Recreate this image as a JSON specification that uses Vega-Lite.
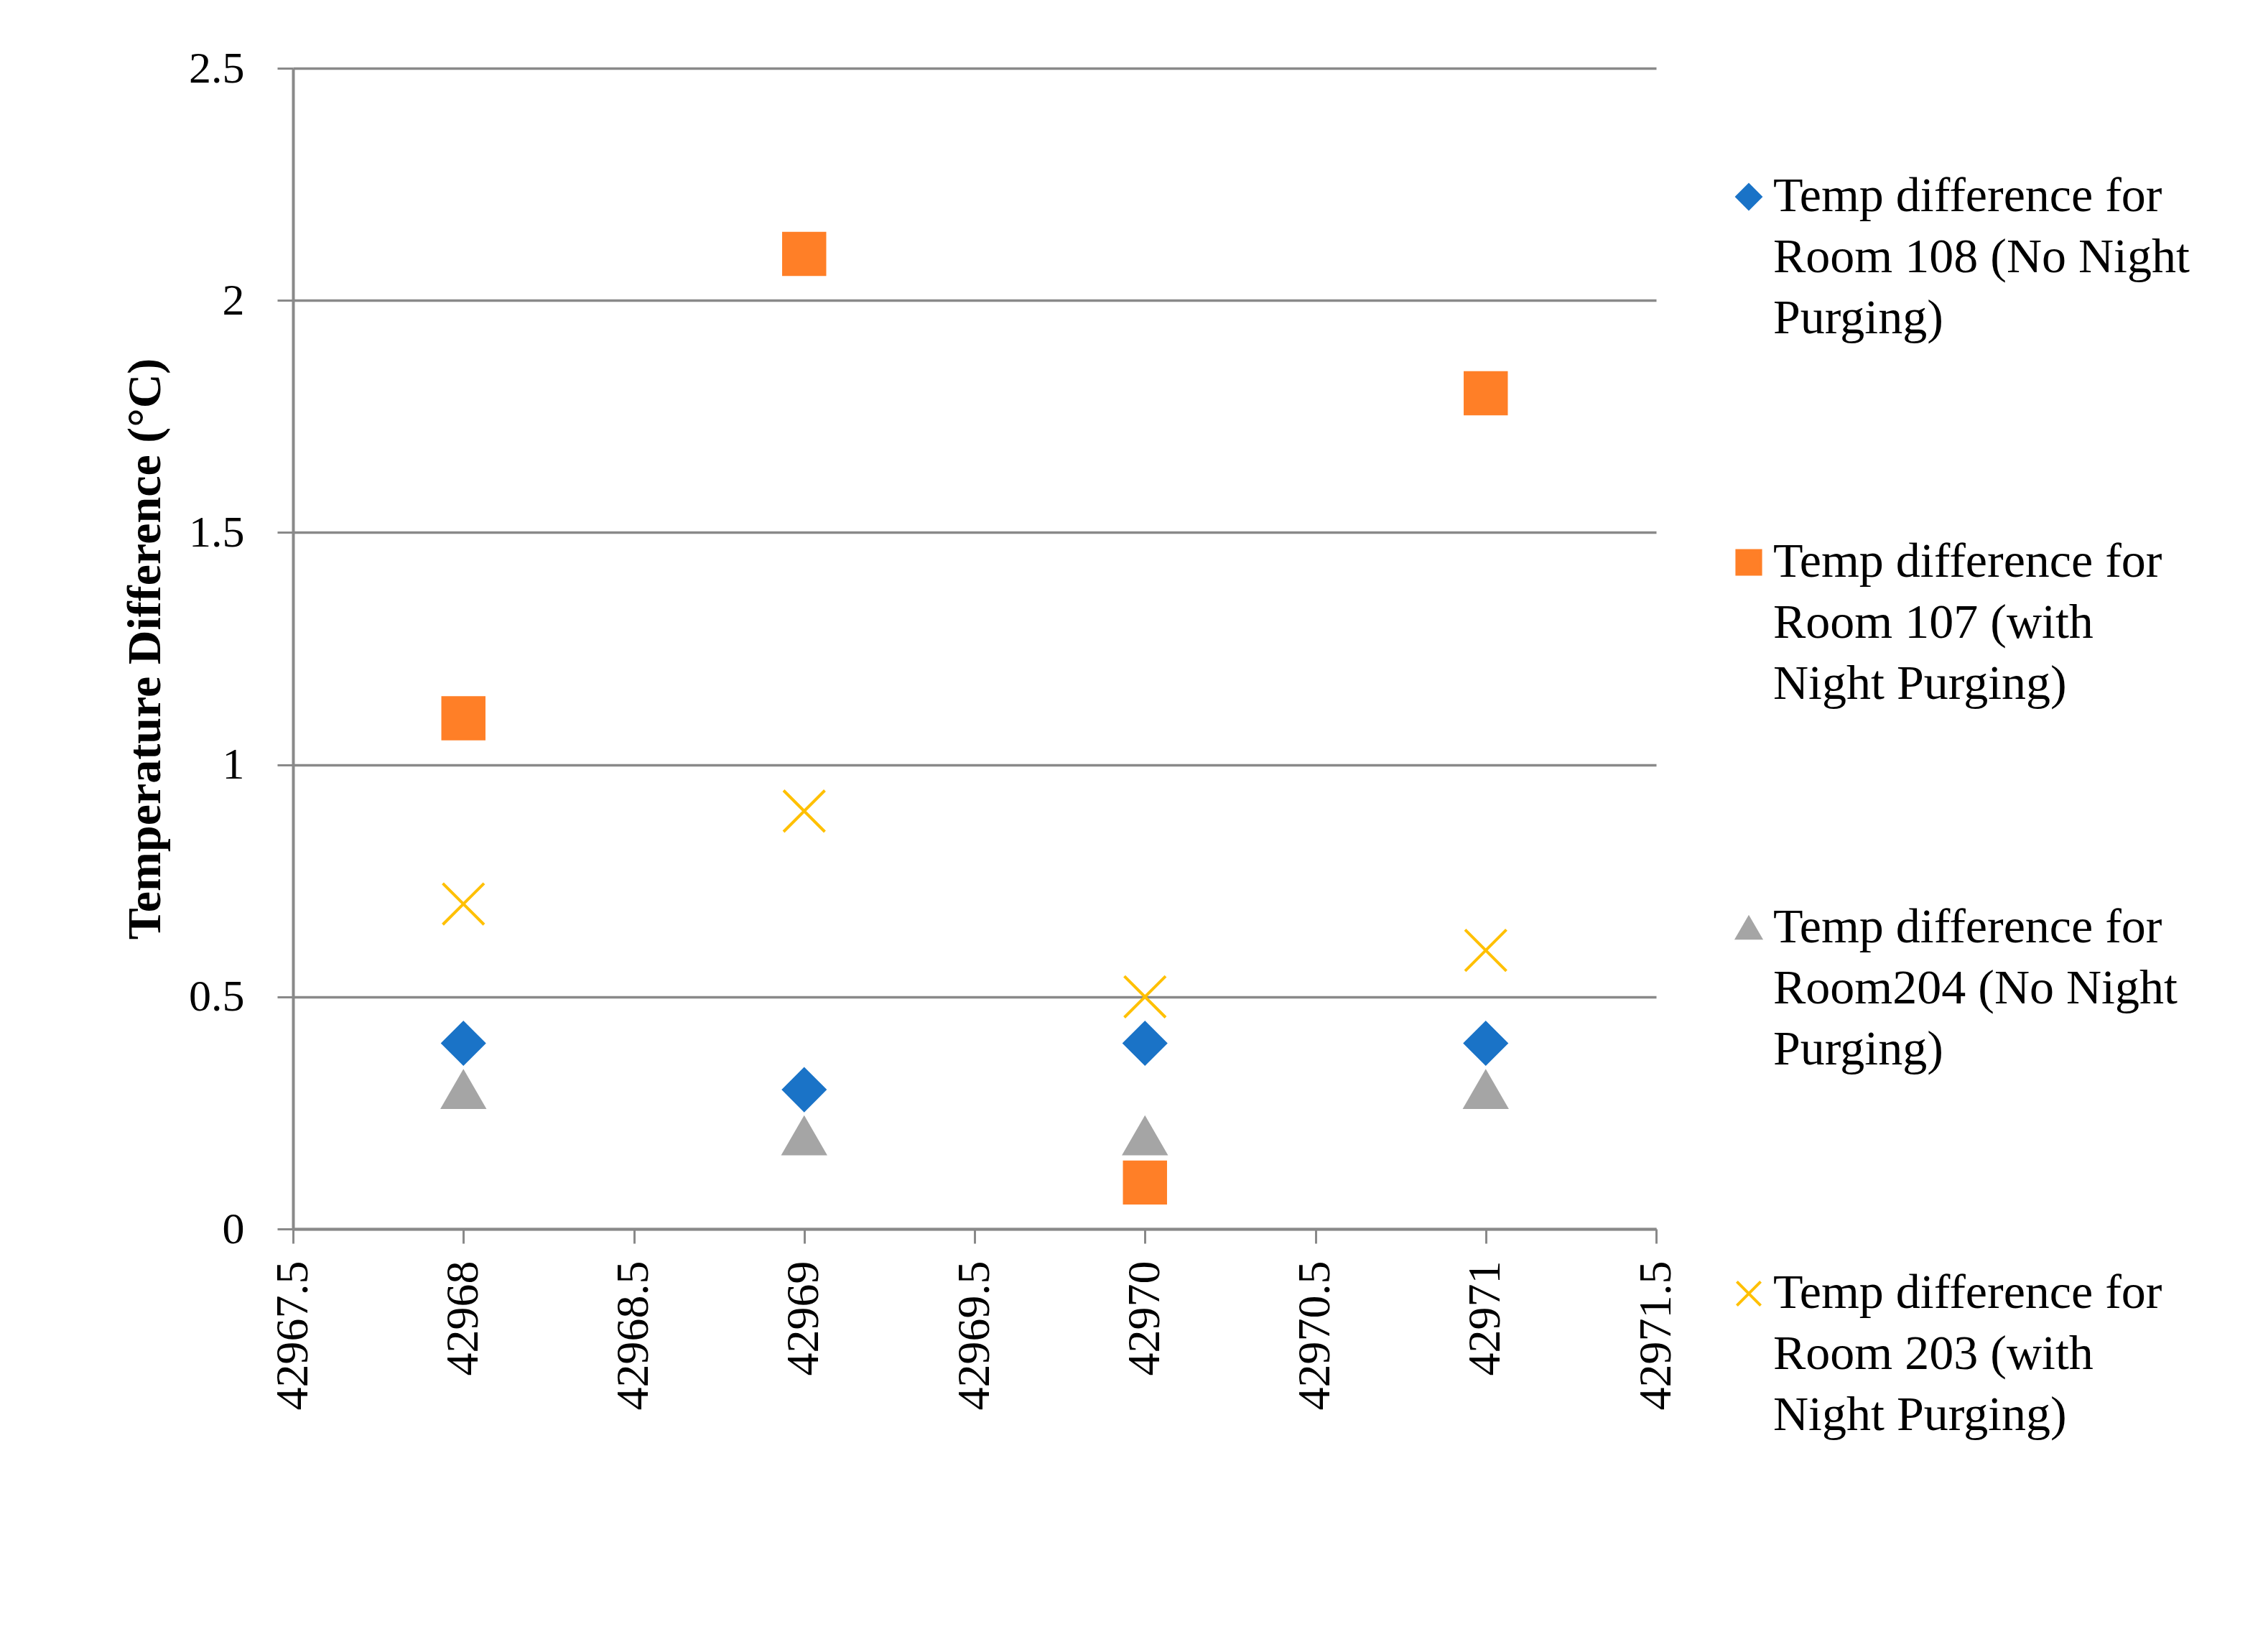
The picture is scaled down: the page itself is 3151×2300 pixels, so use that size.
{
  "$schema": "https://vega.github.io/schema/vega-lite/v6.json",
  "width": 1898,
  "height": 1616,
  "autosize": {"type": "none"},
  "padding": {"left": 408, "top": 95, "right": 845, "bottom": 589},
  "background": "white",
  "config": {
    "view": {"stroke": null},
    "font": "Liberation Serif",
    "style": {"guide-label": {"lineHeight": 85}}
  },
  "data": {
    "values": [
      {"date": 42968, "value": 0.4, "series": "Temp difference  for Room 108 (No Night Purging)"},
      {"date": 42969, "value": 0.3, "series": "Temp difference  for Room 108 (No Night Purging)"},
      {"date": 42970, "value": 0.4, "series": "Temp difference  for Room 108 (No Night Purging)"},
      {"date": 42971, "value": 0.4, "series": "Temp difference  for Room 108 (No Night Purging)"},
      {"date": 42968, "value": 1.1, "series": "Temp difference  for Room 107 (with Night Purging)"},
      {"date": 42969, "value": 2.1, "series": "Temp difference  for Room 107 (with Night Purging)"},
      {"date": 42970, "value": 0.1, "series": "Temp difference  for Room 107 (with Night Purging)"},
      {"date": 42971, "value": 1.8, "series": "Temp difference  for Room 107 (with Night Purging)"},
      {"date": 42968, "value": 0.3, "series": "Temp difference for Room204 (No Night Purging)"},
      {"date": 42969, "value": 0.2, "series": "Temp difference for Room204 (No Night Purging)"},
      {"date": 42970, "value": 0.2, "series": "Temp difference for Room204 (No Night Purging)"},
      {"date": 42971, "value": 0.3, "series": "Temp difference for Room204 (No Night Purging)"},
      {"date": 42968, "value": 0.7, "series": "Temp difference  for Room 203 (with Night Purging)"},
      {"date": 42969, "value": 0.9, "series": "Temp difference  for Room 203 (with Night Purging)"},
      {"date": 42970, "value": 0.5, "series": "Temp difference  for Room 203 (with Night Purging)"},
      {"date": 42971, "value": 0.6, "series": "Temp difference  for Room 203 (with Night Purging)"}
    ]
  },
  "mark": {"type": "point", "filled": true, "size": 3300, "strokeWidth": 4, "opacity": 1},
  "encoding": {
    "x": {
      "field": "date",
      "type": "quantitative",
      "scale": {"domain": [42967.5, 42971.5], "nice": false, "zero": false},
      "axis": {
        "title": null,
        "values": [42967.5, 42968, 42968.5, 42969, 42969.5, 42970, 42970.5, 42971, 42971.5],
        "format": ".1~f",
        "labelAngle": -90,
        "labelFont": "Liberation Serif",
        "labelFontSize": 64,
        "labelColor": "black",
        "labelPadding": 24,
        "labelLimit": 600,
        "labelFlush": false,
        "labelOverlap": false,
        "tickSize": 20,
        "tickColor": "#898989",
        "tickWidth": 3,
        "domainColor": "#898989",
        "domainWidth": 4,
        "grid": false
      }
    },
    "y": {
      "field": "value",
      "type": "quantitative",
      "scale": {"domain": [0, 2.5], "nice": false},
      "axis": {
        "title": "Temperature Difference (°C)",
        "values": [0, 0.5, 1, 1.5, 2, 2.5],
        "format": ".1~f",
        "labelFont": "Liberation Serif",
        "labelFontSize": 62,
        "labelColor": "black",
        "labelPadding": 46,
        "labelFlush": false,
        "tickSize": 22,
        "tickColor": "#898989",
        "tickWidth": 3,
        "domainColor": "#898989",
        "domainWidth": 4,
        "grid": true,
        "gridColor": "#898989",
        "gridWidth": 3.5,
        "titleFont": "Liberation Serif",
        "titleFontWeight": "bold",
        "titleFontSize": 66,
        "titleColor": "black",
        "titleX": -186,
        "titleY": 808,
        "titleAngle": 270,
        "titleAlign": "center",
        "titleBaseline": "alphabetic"
      }
    },
    "fill": {
      "field": "series",
      "type": "nominal",
      "scale": {
        "domain": ["Temp difference  for Room 108 (No Night Purging)", "Temp difference  for Room 107 (with Night Purging)", "Temp difference for Room204 (No Night Purging)", "Temp difference  for Room 203 (with Night Purging)"],
        "range": ["#1A73C7", "#FF7F27", "#A5A5A5", "#FFC000"]
      },
      "legend": {
        "title": null,
        "orient": "none",
        "legendX": 1993,
        "legendY": 145,
        "padding": 0,
        "symbolSize": 1100,
        "symbolStrokeWidth": 4,
        "labelFont": "Liberation Serif",
        "labelFontSize": 68,
        "labelColor": "black",
        "labelOffset": 0,
        "labelLimit": 2000,
        "labelBaseline": "middle",
        "rowPadding": 271,
        "labelExpr": "datum.value == 'Temp difference  for Room 108 (No Night Purging)' ? ['Temp difference  for', 'Room 108 (No Night', 'Purging)'] : datum.value == 'Temp difference  for Room 107 (with Night Purging)' ? ['Temp difference  for', 'Room 107 (with', 'Night Purging)'] : datum.value == 'Temp difference for Room204 (No Night Purging)' ? ['Temp difference for', 'Room204 (No Night', 'Purging)'] : ['Temp difference  for', 'Room 203 (with', 'Night Purging)']"
      }
    },
    "stroke": {
      "field": "series",
      "type": "nominal",
      "scale": {
        "domain": ["Temp difference  for Room 108 (No Night Purging)", "Temp difference  for Room 107 (with Night Purging)", "Temp difference for Room204 (No Night Purging)", "Temp difference  for Room 203 (with Night Purging)"],
        "range": ["#1A73C7", "#FF7F27", "#A5A5A5", "#FFC000"]
      },
      "legend": {
        "title": null,
        "orient": "none",
        "legendX": 1993,
        "legendY": 145,
        "padding": 0,
        "symbolSize": 1100,
        "symbolStrokeWidth": 4,
        "labelFont": "Liberation Serif",
        "labelFontSize": 68,
        "labelColor": "black",
        "labelOffset": 0,
        "labelLimit": 2000,
        "labelBaseline": "middle",
        "rowPadding": 271,
        "labelExpr": "datum.value == 'Temp difference  for Room 108 (No Night Purging)' ? ['Temp difference  for', 'Room 108 (No Night', 'Purging)'] : datum.value == 'Temp difference  for Room 107 (with Night Purging)' ? ['Temp difference  for', 'Room 107 (with', 'Night Purging)'] : datum.value == 'Temp difference for Room204 (No Night Purging)' ? ['Temp difference for', 'Room204 (No Night', 'Purging)'] : ['Temp difference  for', 'Room 203 (with', 'Night Purging)']"
      }
    },
    "shape": {
      "field": "series",
      "type": "nominal",
      "scale": {
        "domain": ["Temp difference  for Room 108 (No Night Purging)", "Temp difference  for Room 107 (with Night Purging)", "Temp difference for Room204 (No Night Purging)", "Temp difference  for Room 203 (with Night Purging)"],
        "range": ["diamond", "square", "triangle-up", "M-1,-1L1,1M1,-1L-1,1"]
      },
      "legend": {
        "title": null,
        "orient": "none",
        "legendX": 1993,
        "legendY": 145,
        "padding": 0,
        "symbolSize": 1100,
        "symbolStrokeWidth": 4,
        "labelFont": "Liberation Serif",
        "labelFontSize": 68,
        "labelColor": "black",
        "labelOffset": 0,
        "labelLimit": 2000,
        "labelBaseline": "middle",
        "rowPadding": 271,
        "labelExpr": "datum.value == 'Temp difference  for Room 108 (No Night Purging)' ? ['Temp difference  for', 'Room 108 (No Night', 'Purging)'] : datum.value == 'Temp difference  for Room 107 (with Night Purging)' ? ['Temp difference  for', 'Room 107 (with', 'Night Purging)'] : datum.value == 'Temp difference for Room204 (No Night Purging)' ? ['Temp difference for', 'Room204 (No Night', 'Purging)'] : ['Temp difference  for', 'Room 203 (with', 'Night Purging)']"
      }
    }
  }
}
